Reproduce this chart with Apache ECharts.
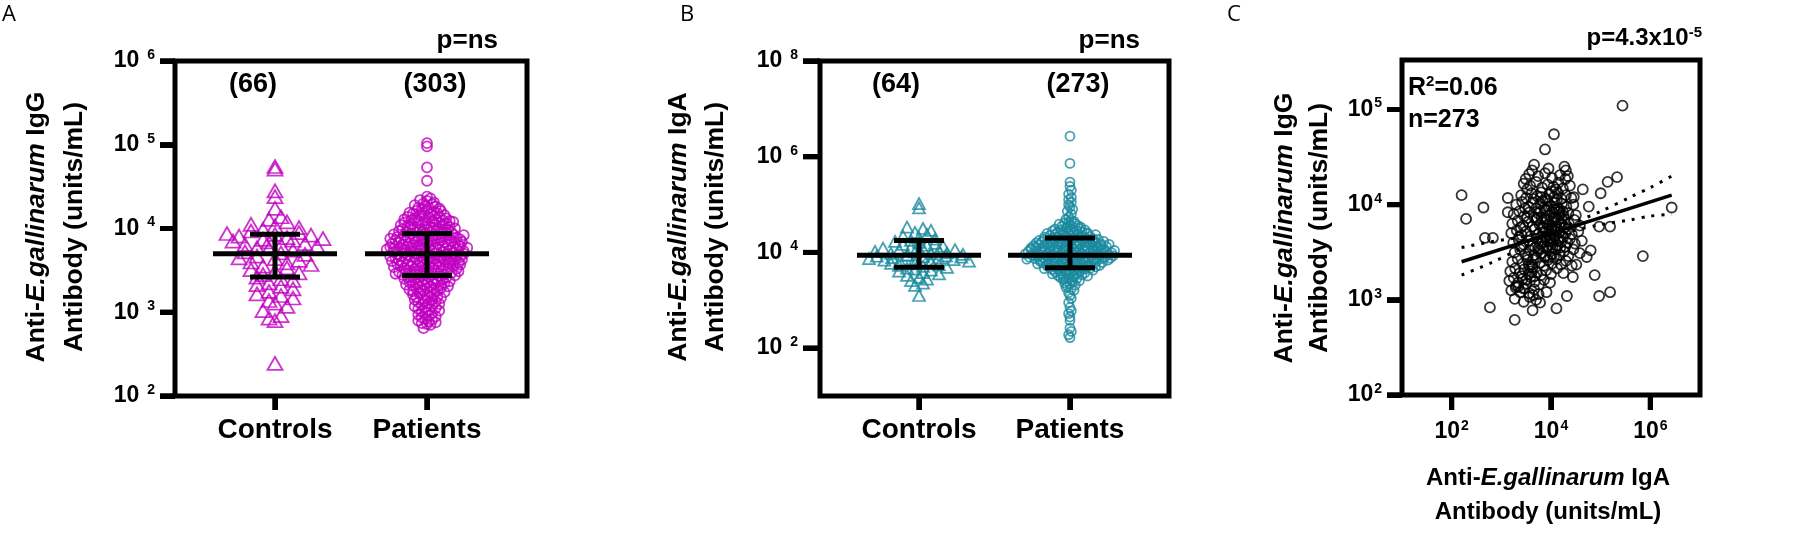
<!DOCTYPE html>
<html><head><meta charset="utf-8">
<script src="https://cdn.jsdelivr.net/npm/echarts@6.0.0/dist/echarts.min.js"></script>
<style>html,body{margin:0;padding:0;background:#fff}#c{width:1797px;height:547px}</style>
</head><body><div id="c"></div>
<script>
// ---------- data (all antibody values are log10 of units/mL) ----------
const groups = ['Controls', 'Patients'];

const iggControls = [4.74,4.71,4.45,4.38,4.24,
4.14,4.11,4.08,4.05,4.03,4.01,
3.99,3.97,3.95,3.94,3.93,3.92,3.91,
3.89,3.88,3.87,3.86,3.85,3.84,3.82,3.81,3.80,
3.79,3.77,3.76,3.74,3.72,3.71,
3.69,3.67,3.65,3.64,3.62,3.60,
3.59,3.57,3.55,3.53,3.51,
3.49,3.47,3.45,3.42,3.40,
3.38,3.35,3.33,3.31,
3.28,3.25,3.22,3.20,
3.17,3.14,3.11,3.07,3.02,
2.96,2.93,2.90,2.39];

const iggPatients = [5.02,4.98,4.73,4.57,
4.38,4.36,4.34,4.33,4.31,4.30,
4.29,4.28,4.27,4.26,4.25,4.25,4.24,4.23,4.22,4.21,4.21,4.20,
4.19,4.19,4.18,4.18,4.17,4.16,4.16,4.15,4.14,4.14,4.13,4.12,4.12,4.11,4.11,4.10,4.10,4.10,
4.09,4.09,4.09,4.08,4.08,4.07,4.07,4.07,4.06,4.06,4.05,4.05,4.04,4.04,4.04,4.03,4.03,4.02,4.02,4.01,4.01,4.00,
3.99,3.99,3.99,3.98,3.98,3.98,3.97,3.97,3.96,3.96,3.96,3.95,3.95,3.95,3.94,3.94,3.93,3.93,3.93,3.92,3.92,3.92,3.91,3.91,3.90,3.90,
3.89,3.89,3.89,3.88,3.88,3.88,3.87,3.87,3.87,3.87,3.86,3.86,3.86,3.85,3.85,3.85,3.84,3.84,3.84,3.83,3.83,3.83,3.82,3.82,3.82,3.81,3.81,3.81,3.80,3.80,3.80,
3.79,3.79,3.79,3.79,3.78,3.78,3.78,3.77,3.77,3.77,3.77,3.76,3.76,3.76,3.75,3.75,3.75,3.75,3.74,3.74,3.74,3.73,3.73,3.73,3.72,3.72,3.72,3.71,3.71,3.71,3.70,3.70,3.70,
3.69,3.69,3.69,3.68,3.68,3.68,3.67,3.67,3.67,3.67,3.66,3.66,3.66,3.65,3.65,3.65,3.64,3.64,3.64,3.63,3.63,3.63,3.62,3.62,3.62,3.61,3.61,3.61,3.60,3.60,3.60,
3.59,3.59,3.59,3.58,3.58,3.58,3.57,3.57,3.57,3.56,3.56,3.56,3.55,3.55,3.55,3.54,3.54,3.54,3.53,3.53,3.53,3.52,3.52,3.51,3.51,3.50,3.50,
3.49,3.49,3.49,3.48,3.48,3.47,3.47,3.47,3.46,3.46,3.45,3.45,3.44,3.44,3.44,3.43,3.43,3.42,3.42,3.41,3.41,3.40,3.40,
3.39,3.39,3.38,3.38,3.37,3.37,3.36,3.36,3.35,3.35,3.34,3.34,3.33,3.33,3.32,3.32,3.31,3.31,3.30,
3.29,3.29,3.28,3.28,3.27,3.26,3.26,3.25,3.24,3.24,3.23,3.22,3.22,3.21,3.20,
3.19,3.18,3.18,3.17,3.16,3.15,3.15,3.14,3.13,3.12,3.11,3.10,
3.09,3.08,3.07,3.06,3.05,3.04,3.03,3.02,3.01,3.00,
2.99,2.97,2.96,2.95,2.94,2.92,2.91,2.90,
2.89,2.88,2.87,2.86,2.85,2.81];

const igaControls = [5.02,4.93,
4.53,4.50,4.46,4.42,
4.37,4.34,4.31,
4.28,4.25,4.23,4.21,
4.19,4.17,4.15,4.13,4.11,
4.09,4.08,4.06,4.05,4.04,4.02,4.01,
3.99,3.98,3.97,3.96,3.95,3.94,3.93,3.92,3.91,3.90,
3.89,3.88,3.87,3.86,3.85,3.84,3.83,3.82,3.81,
3.79,3.77,3.76,3.74,3.73,3.71,
3.69,3.67,3.65,3.63,3.61,
3.58,3.55,3.52,
3.48,3.44,3.41,
3.36,3.31,
3.10];

const igaPatients = [6.43,5.86,
5.47,5.38,5.30,5.22,5.15,5.10,5.05,5.00,4.95,4.90,4.86,4.80,4.74,
4.69,4.67,4.65,4.63,4.62,4.60,
4.59,4.58,4.56,4.55,4.54,4.53,4.52,4.51,4.50,
4.49,4.48,4.47,4.47,4.46,4.45,4.44,4.43,4.43,4.42,4.41,4.41,4.40,
4.39,4.39,4.38,4.37,4.37,4.36,4.35,4.35,4.34,4.33,4.33,4.32,4.32,4.31,4.31,4.30,4.30,
4.29,4.29,4.28,4.28,4.27,4.27,4.26,4.26,4.25,4.25,4.25,4.24,4.24,4.23,4.23,4.22,4.22,4.21,4.21,4.21,4.20,4.20,
4.19,4.19,4.19,4.18,4.18,4.18,4.17,4.17,4.17,4.16,4.16,4.16,4.15,4.15,4.15,4.14,4.14,4.14,4.13,4.13,4.13,4.12,4.12,4.11,4.11,4.10,4.10,
4.09,4.09,4.09,4.08,4.08,4.08,4.07,4.07,4.07,4.06,4.06,4.06,4.05,4.05,4.05,4.04,4.04,4.04,4.03,4.03,4.03,4.02,4.02,4.02,4.01,4.01,4.00,4.00,
3.99,3.99,3.99,3.98,3.98,3.98,3.97,3.97,3.97,3.96,3.96,3.96,3.95,3.95,3.95,3.94,3.94,3.94,3.93,3.93,3.93,3.92,3.92,3.92,3.91,3.91,3.91,3.90,3.90,3.90,
3.89,3.89,3.89,3.88,3.88,3.88,3.87,3.87,3.87,3.86,3.86,3.86,3.85,3.85,3.85,3.84,3.84,3.84,3.83,3.83,3.83,3.82,3.82,3.81,3.81,3.80,3.80,
3.79,3.79,3.79,3.78,3.78,3.77,3.77,3.77,3.76,3.76,3.75,3.75,3.74,3.74,3.73,3.73,3.72,3.72,3.71,3.71,3.70,3.70,
3.69,3.69,3.68,3.68,3.67,3.67,3.66,3.66,3.65,3.65,3.64,3.64,3.63,3.62,3.61,3.60,
3.59,3.58,3.57,3.56,3.56,3.55,3.54,3.53,3.52,3.52,3.51,3.50,
3.49,3.47,3.46,3.45,3.44,3.42,3.41,3.40,
3.38,3.36,3.34,3.32,3.30,
3.27,3.24,3.21,3.16,3.10,3.04,
2.95,2.85,2.78,2.72,2.65,2.58,
2.42,2.35,2.28,2.22];

// [group, mean, lower, upper]
const iggSummary = [[0, 3.70, 3.42, 3.93], [1, 3.70, 3.44, 3.94]];
const igaSummary = [[0, 3.94, 3.69, 4.25], [1, 3.94, 3.68, 4.30]];

// panel C: [IgA, IgG] (log10 units/mL)
const corrPairs = [
[2.20,4.10],[2.64,3.97],[2.29,3.85],[2.67,3.65],[2.83,3.65],[2.77,2.92],[3.13,4.07],[3.27,2.79],
[3.88,4.58],[4.06,4.74],[5.44,5.04],[6.43,3.97],[5.85,3.46],[5.14,4.24],[5.33,4.29],[5.00,4.12],
[4.97,3.77],[5.19,3.77],[4.80,3.52],[4.88,3.26],[4.97,3.04],[5.19,3.08],[4.32,3.04],[4.11,2.91],
[3.91,3.08],[3.78,2.97],[3.63,2.89],[3.64,3.05],[4.44,3.24],[4.51,3.37],[4.64,4.16],[4.76,3.98],
[4.46,4.08],[4.72,3.45],[3.13,3.92],
[3.66,4.42],[3.95,4.38],[4.27,4.40],[4.30,4.36],[3.62,4.36],
[3.56,4.32],[3.74,4.30],[3.88,4.33],[4.02,4.28],[4.18,4.31],[4.29,4.27],[3.49,4.27],[4.34,4.30],
[3.45,4.22],[3.58,4.20],[3.70,4.24],[3.82,4.18],[3.93,4.21],[4.05,4.19],[4.15,4.23],[4.24,4.17],[4.38,4.20],[3.52,4.16],[4.10,4.16],
[3.40,4.10],[3.50,4.07],[3.61,4.12],[3.72,4.09],[3.80,4.13],[3.89,4.06],[3.97,4.11],[4.06,4.08],[4.14,4.12],[4.21,4.06],[4.30,4.10],[4.41,4.07],[3.65,4.06],[4.01,4.14],
[3.30,4.00],[3.42,4.03],[3.55,3.98],[3.63,4.02],[3.70,3.96],[3.78,4.01],[3.86,3.97],[3.93,4.04],[4.00,3.99],[4.08,4.02],[4.15,3.96],[4.22,4.01],[4.31,3.98],[4.45,4.00],[3.48,3.96],[4.12,4.05],[3.83,4.04],
[3.25,3.90],[3.36,3.93],[3.46,3.88],[3.57,3.92],[3.66,3.87],[3.74,3.91],[3.81,3.86],[3.89,3.94],[3.96,3.89],[4.03,3.92],[4.10,3.87],[4.18,3.93],[4.26,3.88],[4.35,3.91],[4.50,3.89],[3.52,3.86],[3.92,3.85],[4.07,3.95],[4.22,3.86],
[3.22,3.80],[3.33,3.83],[3.44,3.78],[3.54,3.82],[3.62,3.77],[3.70,3.84],[3.77,3.79],[3.84,3.76],[3.90,3.82],[3.97,3.78],[4.04,3.83],[4.11,3.77],[4.19,3.81],[4.27,3.76],[4.36,3.80],[4.47,3.84],[4.58,3.78],[3.39,3.76],[3.87,3.85],[4.00,3.75],[4.15,3.84],
[3.20,3.70],[3.31,3.73],[3.41,3.68],[3.50,3.72],[3.59,3.67],[3.67,3.74],[3.74,3.69],[3.81,3.66],[3.88,3.72],[3.95,3.68],[4.02,3.73],[4.09,3.67],[4.17,3.71],[4.25,3.66],[4.33,3.74],[4.42,3.69],[4.55,3.72],[3.36,3.66],[3.85,3.75],[3.99,3.65],[4.13,3.74],[4.29,3.70],
[3.24,3.60],[3.35,3.63],[3.45,3.58],[3.55,3.62],[3.63,3.57],[3.71,3.64],[3.78,3.59],[3.85,3.56],[3.92,3.62],[3.99,3.58],[4.06,3.63],[4.13,3.57],[4.21,3.61],[4.29,3.56],[4.38,3.64],[4.48,3.59],[4.62,3.62],[3.40,3.56],[3.89,3.65],[4.03,3.55],[4.17,3.64],
[3.27,3.50],[3.38,3.53],[3.48,3.48],[3.58,3.52],[3.66,3.47],[3.74,3.54],[3.81,3.49],[3.88,3.46],[3.95,3.52],[4.02,3.48],[4.10,3.53],[4.18,3.47],[4.26,3.51],[4.35,3.46],[4.45,3.53],[4.58,3.49],[3.53,3.45],[3.91,3.55],[4.06,3.45],
[3.22,3.40],[3.33,3.43],[3.43,3.38],[3.53,3.42],[3.62,3.37],[3.70,3.44],[3.78,3.39],[3.86,3.36],[3.94,3.42],[4.02,3.38],[4.11,3.43],[4.20,3.37],[4.30,3.41],[4.42,3.36],[3.57,3.35],[3.98,3.45],
[3.18,3.30],[3.28,3.33],[3.37,3.28],[3.46,3.32],[3.55,3.27],[3.63,3.34],[3.71,3.29],[3.80,3.26],[3.90,3.31],[4.00,3.27],[4.12,3.33],[4.25,3.28],[3.41,3.25],[3.67,3.25],
[3.16,3.20],[3.25,3.23],[3.34,3.18],[3.43,3.22],[3.51,3.17],[3.59,3.24],[3.67,3.19],[3.76,3.16],[3.86,3.21],[3.98,3.18],[3.30,3.15],
[3.20,3.10],[3.29,3.13],[3.38,3.08],[3.47,3.12],[3.56,3.07],[3.66,3.11],[3.75,3.06],[3.34,3.14],
[3.27,3.01],[3.45,2.98],[3.57,3.03],[3.70,3.00],
[3.79,3.93],[3.84,3.71],[3.93,3.79],[4.05,3.86],[4.14,3.62],[4.22,3.79],[3.76,3.52],[3.83,3.61],[3.96,3.72],[4.04,3.68],
[4.11,3.95],[4.19,3.55],[4.27,3.85],[3.72,3.86],[3.87,3.45],[4.00,3.61],[4.08,3.77],[4.16,3.89],[3.60,3.30],[3.50,3.21],
[3.64,3.42],[3.44,3.12],[3.55,3.37],[3.68,3.55],[3.93,3.98],[4.24,3.93],[4.33,3.60],[3.80,4.08]
];

// fitted line and its 95% band
const fitX = [2.20, 6.43];
const fitY = [3.40, 4.10];
const bandX  = [2.20, 2.80, 3.40, 3.90, 4.40, 5.00, 5.60, 6.00, 6.43];
const bandLo = [3.26, 3.39, 3.54, 3.645, 3.72, 3.79, 3.84, 3.88, 3.90];
const bandHi = [3.55, 3.61, 3.66, 3.715, 3.80, 3.93, 4.08, 4.18, 4.30];

const iggTicks = [2, 3, 4, 5, 6];
const igaTicks = [2, 4, 6, 8];
const corrYTicks = [2, 3, 4, 5];
const corrXTicks = [2, 4, 6];
const groupTicks = [0, 1];

// ---------- layout ----------
const FONT = "'Liberation Sans', Arial, Helvetica, sans-serif";
const MAG = '#c000c0', TEAL = '#1a8a9f';
const panels = [
  { left: 175, top: 61, width: 352, height: 335, xMin: -0.658, xMax: 1.658, yMin: 2, yMax: 6, yT: iggTicks, xT: groupTicks, yLen: 15, xLen: 14 },
  { left: 820, top: 61, width: 349, height: 335, xMin: -0.656, xMax: 1.656, yMin: 1, yMax: 8, yT: igaTicks, xT: groupTicks, yLen: 17, xLen: 14 },
  { left: 1402, top: 60, width: 298, height: 335, xMin: 1, xMax: 7, yMin: 2, yMax: 5.52, yT: corrYTicks, xT: corrXTicks, yLen: 15, xLen: 15 }
];

// beeswarm-like horizontal spreading of points that share a value band
function swarm(vals, cx, o) {
  const order = vals.map((v, i) => i).sort((a, b) => vals[a] - vals[b]);
  const bins = {};
  order.forEach(i => { const b = Math.floor(vals[i] * o.pxY / o.binPx); (bins[b] = bins[b] || []).push(i); });
  const pts = [];
  Object.keys(bins).forEach(k => {
    const m = bins[k], n = m.length;
    let step = o.step;
    if (n > 1 && (n - 1) * step > 2 * o.half) step = 2 * o.half / (n - 1);
    const keyed = m.map((i, j) => ({ i, key: (j * 0.6180339887 + 0.31) % 1 })).sort((a, b) => a.key - b.key);
    keyed.forEach((p, j) => {
      const off = (j - (n - 1) / 2) * step;
      pts.push([cx + off / o.pxX, vals[p.i]]);
    });
  });
  return pts;
}

function expRich(base, sup, gap) {
  return {
    b: { fontFamily: FONT, fontWeight: 'bold', fontSize: base, color: '#000', lineHeight: base + 3 },
    s: { fontFamily: FONT, fontWeight: 'bold', fontSize: sup, color: '#000', lineHeight: sup, verticalAlign: 'top', padding: [0, 0, 0, gap] }
  };
}
const expFmt = v => '{b|10}{s|' + v + '}';

function summaryRender(params, api) {
  const c = api.value(0);
  const pm = api.coord([c, api.value(1)]);
  const pl = api.coord([c, api.value(2)]);
  const ph = api.coord([c, api.value(3)]);
  const st = { stroke: '#000', lineWidth: 5 };
  return { type: 'group', children: [
    { type: 'line', shape: { x1: pm[0] - 62, y1: pm[1], x2: pm[0] + 62, y2: pm[1] }, style: st },
    { type: 'line', shape: { x1: pl[0], y1: pl[1], x2: ph[0], y2: ph[1] }, style: st },
    { type: 'line', shape: { x1: ph[0] - 25, y1: ph[1], x2: ph[0] + 25, y2: ph[1] }, style: st },
    { type: 'line', shape: { x1: pl[0] - 25, y1: pl[1], x2: pl[0] + 25, y2: pl[1] }, style: st }
  ] };
}

const hiddenAxis = (gi, min, max) => ({ gridIndex: gi, type: 'value', min: min, max: max, show: false });
const axisLineStyle = { show: false, onZero: false };
const tickStyle = { color: '#000', width: 5 };

// main grids 0..2, then per panel a left strip (3..5) and a bottom strip (6..8) holding the tick marks
const grids = [], xAxes = [], yAxes = [];
panels.forEach((p, i) => {
  grids.push({ left: p.left, top: p.top, width: p.width, height: p.height, show: true, borderColor: '#000', borderWidth: 5, outerBoundsMode: 'none' });
});
panels.forEach((p, i) => {
  grids.push({ left: p.left - 22, top: p.top, width: 22, height: p.height, show: false, outerBoundsMode: 'none' });
});
panels.forEach((p, i) => {
  grids.push({ left: p.left, top: p.top + p.height, width: p.width, height: 22, show: false, outerBoundsMode: 'none' });
});

xAxes.push(
  { gridIndex: 0, type: 'value', min: panels[0].xMin, max: panels[0].xMax, position: 'bottom', axisLine: axisLineStyle, splitLine: { show: false },
    axisTick: { show: true, customValues: groupTicks, length: 14, lineStyle: tickStyle },
    axisLabel: { customValues: groupTicks, formatter: v => groups[v], fontFamily: FONT, fontWeight: 'bold', fontSize: 28, color: '#000', margin: 20 } },
  { gridIndex: 1, type: 'value', min: panels[1].xMin, max: panels[1].xMax, position: 'bottom', axisLine: axisLineStyle, splitLine: { show: false },
    axisTick: { show: true, customValues: groupTicks, length: 14, lineStyle: tickStyle },
    axisLabel: { customValues: groupTicks, formatter: v => groups[v], fontFamily: FONT, fontWeight: 'bold', fontSize: 28, color: '#000', margin: 20 } },
  { gridIndex: 2, type: 'value', min: panels[2].xMin, max: panels[2].xMax, position: 'bottom', axisLine: axisLineStyle, splitLine: { show: false },
    axisTick: { show: true, customValues: corrXTicks, length: 15, lineStyle: tickStyle },
    axisLabel: { customValues: corrXTicks, formatter: expFmt, rich: expRich(23, 14, 1), margin: 24 } }
);
yAxes.push(
  { gridIndex: 0, type: 'value', min: 2, max: 6, position: 'left', axisLine: axisLineStyle, splitLine: { show: false },
    axisTick: { show: true, customValues: iggTicks, length: 15, lineStyle: tickStyle },
    axisLabel: { customValues: iggTicks, formatter: expFmt, rich: expRich(23, 14, 8), margin: 20 } },
  { gridIndex: 1, type: 'value', min: 1, max: 8, position: 'left', axisLine: axisLineStyle, splitLine: { show: false },
    axisTick: { show: true, customValues: igaTicks, length: 17, lineStyle: tickStyle },
    axisLabel: { customValues: igaTicks, formatter: expFmt, rich: expRich(23, 14, 8), margin: 22 } },
  { gridIndex: 2, type: 'value', min: 2, max: 5.52, position: 'left', axisLine: axisLineStyle, splitLine: { show: false },
    axisTick: { show: true, customValues: corrYTicks, length: 15, lineStyle: tickStyle },
    axisLabel: { customValues: corrYTicks, formatter: expFmt, rich: expRich(23, 14, 1), margin: 20 } }
);
// strip axes: left strips share the panel's value range on y; bottom strips share it on x
panels.forEach((p, i) => { xAxes.push(hiddenAxis(3 + i, 0, 1)); yAxes.push(hiddenAxis(3 + i, p.yMin, p.yMax)); });
panels.forEach((p, i) => { xAxes.push(hiddenAxis(6 + i, p.xMin, p.xMax)); yAxes.push(hiddenAxis(6 + i, 0, 1)); });

function yTickSeries(i) {
  const p = panels[i];
  return { type: 'custom', xAxisIndex: 3 + i, yAxisIndex: 3 + i, silent: true, z: 10, clip: false,
    data: p.yT.map(v => [1, v]), encode: { x: 0, y: 1 },
    renderItem: (params, api) => { const c = api.coord([api.value(0), api.value(1)]);
      return { type: 'rect', shape: { x: c[0] - p.yLen, y: c[1] - 2.5, width: p.yLen, height: 5 }, style: { fill: '#000' } }; } };
}
function xTickSeries(i) {
  const p = panels[i];
  return { type: 'custom', xAxisIndex: 6 + i, yAxisIndex: 6 + i, silent: true, z: 10, clip: false,
    data: p.xT.map(v => [v, 1]), encode: { x: 0, y: 1 },
    renderItem: (params, api) => { const c = api.coord([api.value(0), api.value(1)]);
      return { type: 'rect', shape: { x: c[0] - 2.5, y: c[1], width: 5, height: p.xLen }, style: { fill: '#000' } }; } };
}

const hollow = c => ({ color: 'rgba(0,0,0,0)', borderColor: c, borderWidth: 1.8 });

const titleRich = sz => ({
  n: { fontFamily: FONT, fontWeight: 'bold', fontSize: sz, fill: '#000', color: '#000' },
  i: { fontFamily: FONT, fontWeight: 'bold', fontStyle: 'italic', fontSize: sz, fill: '#000', color: '#000' }
});
function title(x, y, rot, isoType, sz, lh) {
  return { type: 'text', x: x, y: y, rotation: rot ? Math.PI / 2 : 0,
    style: { text: '{n|Anti-}{i|E.gallinarum}{n| ' + isoType + '}\n{n|Antibody (units/mL)}',
      rich: titleRich(sz), align: 'center', verticalAlign: 'middle', lineHeight: lh, fill: '#000' } };
}
function label(text, x, y, sz, align) {
  return { type: 'text', x: x, y: y, style: { text: text, fontFamily: FONT, fontWeight: 'bold', fontSize: sz,
    fill: '#000', align: align || 'center', verticalAlign: 'middle' } };
}
function panelLetter(t, x) {
  return { type: 'text', x: x, y: 15, style: { text: t, fontFamily: "'Open Sans', 'Noto Sans', sans-serif", fontSize: 22, fill: '#000', align: 'left', verticalAlign: 'middle' } };
}

// outward tick marks also as plain graphic bars (same linear mapping as the axes)
const tickEls = [];
panels.forEach(p => {
  p.yT.forEach(v => {
    const y = p.top + (p.yMax - v) / (p.yMax - p.yMin) * p.height;
    tickEls.push({ type: 'rect', z: 50, shape: { x: p.left - p.yLen, y: y - 2.5, width: p.yLen, height: 5 }, style: { fill: '#000' } });
  });
  p.xT.forEach(v => {
    const x = p.left + (v - p.xMin) / (p.xMax - p.xMin) * p.width;
    tickEls.push({ type: 'rect', z: 50, shape: { x: x - 2.5, y: p.top + p.height, width: 5, height: p.xLen }, style: { fill: '#000' } });
  });
});

const texts = [
  panelLetter('A', 2), panelLetter('B', 680), panelLetter('C', 1227),
  title(56, 227, true, 'IgG', 26.5, 38),
  title(697, 227, true, 'IgA', 26.5, 37),
  title(1302, 228, true, 'IgG', 26.5, 35),
  title(1548, 495, false, 'IgA', 24, 34),
  label('(' + iggControls.length + ')', 253, 85, 27),
  label('(' + iggPatients.length + ')', 435, 85, 27),
  label('(' + igaControls.length + ')', 896, 85, 27),
  label('(' + igaPatients.length + ')', 1078, 85, 27),
  label('p=ns', 498, 41, 26, 'right'),
  label('p=ns', 1140, 41, 26, 'right'),
  { type: 'text', x: 1702, y: 38, style: { text: '{b|p=4.3x10}{s|-5}', align: 'right', verticalAlign: 'middle',
    rich: { b: { fontFamily: FONT, fontWeight: 'bold', fontSize: 24, fill: '#000', lineHeight: 26 },
            s: { fontFamily: FONT, fontWeight: 'bold', fontSize: 15, fill: '#000', lineHeight: 15, verticalAlign: 'top' } } } },
  { type: 'text', x: 1408, y: 88, style: { text: '{b|R}{s|2}{b|=0.06}', align: 'left', verticalAlign: 'middle',
    rich: { b: { fontFamily: FONT, fontWeight: 'bold', fontSize: 25, fill: '#000', lineHeight: 27 },
            s: { fontFamily: FONT, fontWeight: 'bold', fontSize: 15, fill: '#000', lineHeight: 15, verticalAlign: 'top' } } } },
  label('n=' + corrPairs.length, 1408, 120, 25, 'left')
];

const chart = echarts.init(document.getElementById('c'), null, { renderer: 'canvas' });
chart.setOption({
  animation: false,
  backgroundColor: '#fff',
  grid: grids,
  xAxis: xAxes,
  yAxis: yAxes,
  series: [
    { type: 'scatter', xAxisIndex: 0, yAxisIndex: 0, symbol: 'triangle', symbolSize: [15, 13], itemStyle: hollow(MAG),
      data: swarm(iggControls, 0, { pxY: 83.75, pxX: 152, binPx: 9, step: 12, half: 48 }) },
    { type: 'scatter', xAxisIndex: 0, yAxisIndex: 0, symbol: 'circle', symbolSize: 10, itemStyle: hollow(MAG),
      data: swarm(iggPatients, 1, { pxY: 83.75, pxX: 152, binPx: 6, step: 3.5, half: 50 }) },
    { type: 'custom', xAxisIndex: 0, yAxisIndex: 0, renderItem: summaryRender, data: iggSummary, z: 5, encode: { x: 0, y: [1, 2, 3] } },

    { type: 'scatter', xAxisIndex: 1, yAxisIndex: 1, symbol: 'triangle', symbolSize: [12, 11], itemStyle: hollow(TEAL),
      data: swarm(igaControls, 0, { pxY: 47.86, pxX: 151, binPx: 7, step: 8, half: 50 }) },
    { type: 'scatter', xAxisIndex: 1, yAxisIndex: 1, symbol: 'circle', symbolSize: 9, itemStyle: hollow(TEAL),
      data: swarm(igaPatients, 1, { pxY: 47.86, pxX: 151, binPx: 5.4, step: 2.7, half: 48 }) },
    { type: 'custom', xAxisIndex: 1, yAxisIndex: 1, renderItem: summaryRender, data: igaSummary, z: 5, encode: { x: 0, y: [1, 2, 3] } },

    { type: 'scatter', xAxisIndex: 2, yAxisIndex: 2, symbol: 'circle', symbolSize: 10, itemStyle: hollow('#000'), data: corrPairs },
    { type: 'line', xAxisIndex: 2, yAxisIndex: 2, symbol: 'none', z: 4, lineStyle: { color: '#000', width: 3.5 },
      data: fitX.map((x, i) => [x, fitY[i]]) },
    { type: 'line', xAxisIndex: 2, yAxisIndex: 2, symbol: 'none', z: 4, smooth: 0.3, lineStyle: { color: '#000', width: 3, type: [3, 7] },
      data: bandX.map((x, i) => [x, bandLo[i]]) },
    { type: 'line', xAxisIndex: 2, yAxisIndex: 2, symbol: 'none', z: 4, smooth: 0.3, lineStyle: { color: '#000', width: 3, type: [3, 7] },
      data: bandX.map((x, i) => [x, bandHi[i]]) },

    yTickSeries(0), yTickSeries(1), yTickSeries(2),
    xTickSeries(0), xTickSeries(1), xTickSeries(2)
  ],
  graphic: texts.concat(tickEls)
});
</script></body></html>
